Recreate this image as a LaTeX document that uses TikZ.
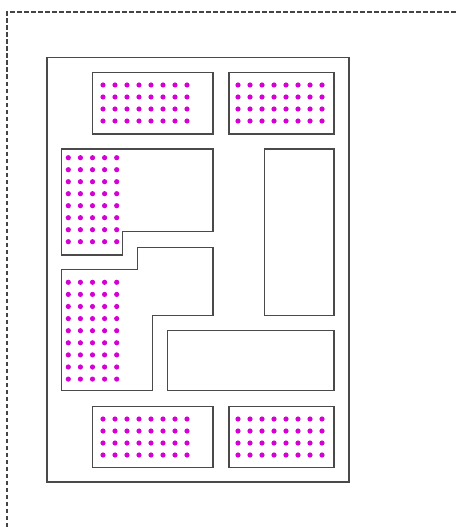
\documentclass[tikz,border=0pt]{standalone}
\usepackage{xcolor}
\definecolor{wallGray} {HTML}{4A4A4A}
\definecolor{frameGray}{HTML}{444444}
\definecolor{seatPink} {HTML}{D400D4}
\tikzset{
  wall/.style={draw=wallGray,line width=1.4pt,fill=white},
  frame/.style={draw=frameGray,line width=1.1pt,dash pattern=on 4.5pt off 2.5pt},
  seat/.style={fill=seatPink,draw=none},
}

\begin{document}
\begin{tikzpicture}[x=1pt,y=-1pt]

\useasboundingbox (0,0) rectangle (456,527);

\draw[frame] (7,527) -- (7,12) -- (456,12);

\draw[wall] (47,57.5) rectangle (349,482);

% top row
\draw[wall] (92.5,72.5) rectangle (213,134);
\draw[wall] (229,72.5) rectangle (334,134);

% middle
\draw[wall] (61.7,149) -- (213,149) -- (213,231.7) -- (122.3,231.7)
  -- (122.3,255) -- (61.7,255) -- cycle;
\draw[wall] (61.7,269.3) -- (137.7,269.3) -- (137.7,247.3) -- (213,247.3)
  -- (213,315.3) -- (152.3,315.3) -- (152.3,390.7) -- (61.7,390.7) -- cycle;
\draw[wall] (264.3,149) rectangle (334,315.3);
\draw[wall] (167.7,330.7) rectangle (334,390.7);

% bottom row
\draw[wall] (92.5,406.3) rectangle (213,467.3);
\draw[wall] (229,406.3) rectangle (334,467.3);

% seats
\foreach \i in {0,...,7}
  \foreach \j in {0,...,3}{
    \fill[seat] (103+12*\i,85+12*\j) circle (2.6);
    \fill[seat] (238+12*\i,85+12*\j) circle (2.6);
    \fill[seat] (103+12*\i,419+12*\j) circle (2.6);
    \fill[seat] (238+12*\i,419+12*\j) circle (2.6);
  }
\foreach \i in {0,...,4}{
  \foreach \j in {0,...,7}
    \fill[seat] (68.3+12.1*\i,157.7+12*\j) circle (2.6);
  \foreach \j in {0,...,8}
    \fill[seat] (68.3+12.1*\i,282.3+12.1*\j) circle (2.6);
}

\end{tikzpicture}
\end{document}
